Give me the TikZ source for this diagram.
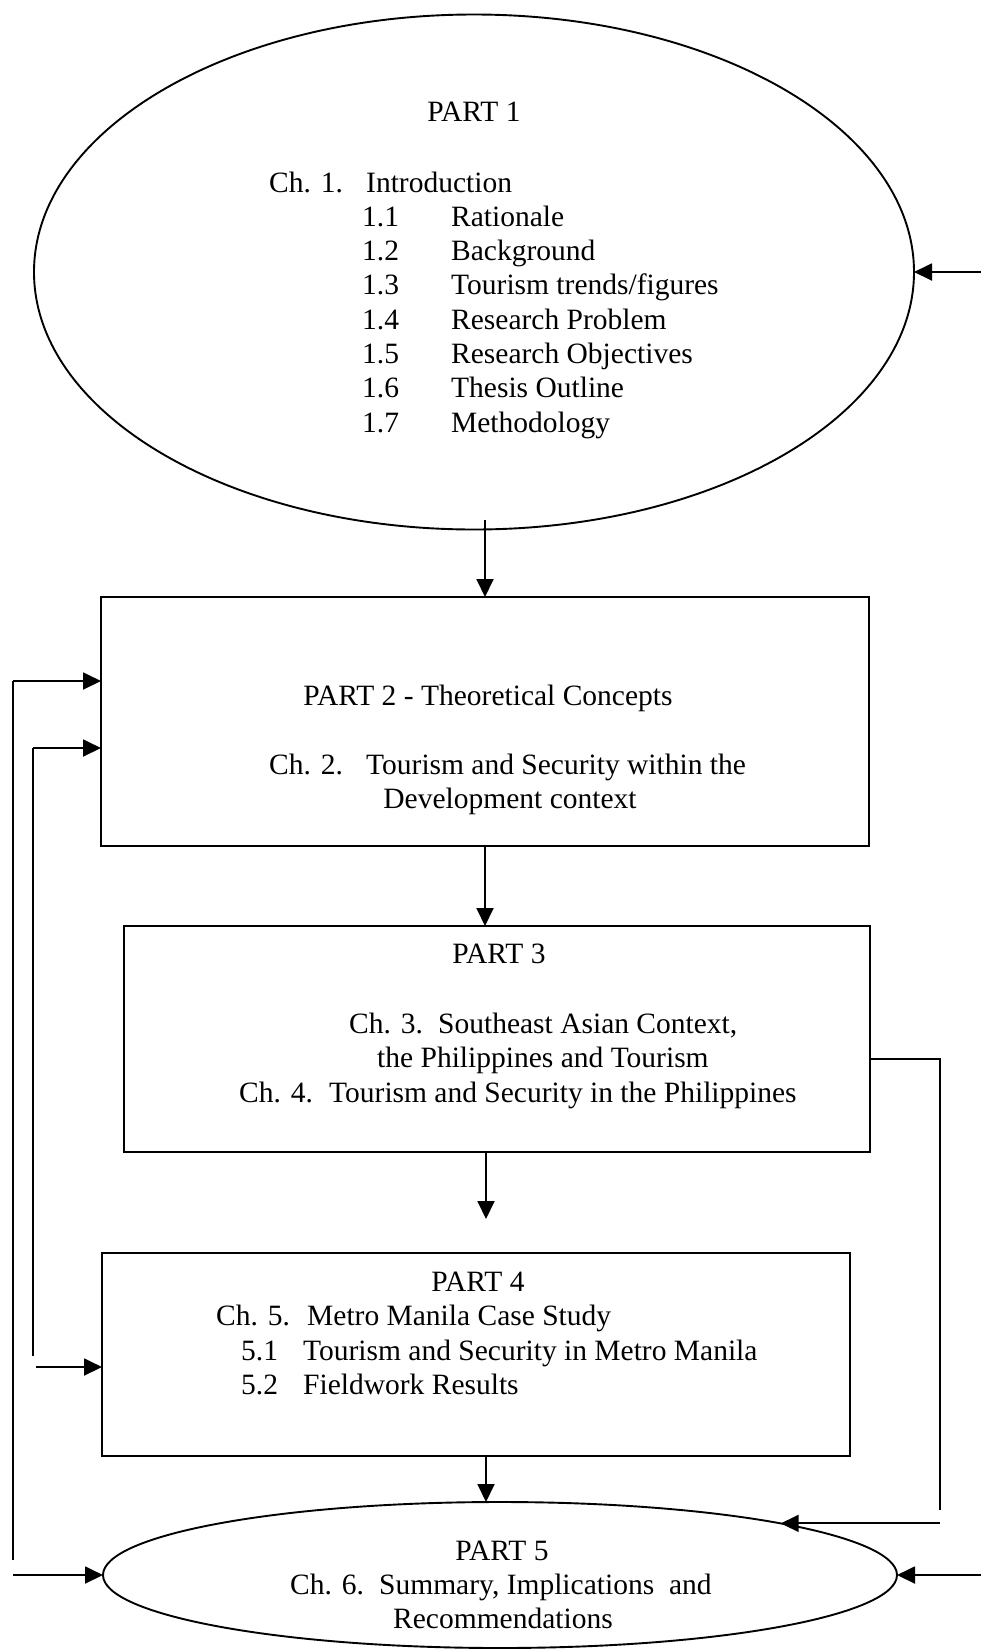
\documentclass[tikz,border=0pt]{standalone}
\usepackage{fontspec}
\setmainfont{Liberation Serif}
\usetikzlibrary{shapes.geometric,arrows.meta}
\tikzset{>={Triangle[length=18pt,width=17pt]}}
\tikzset{
  part/.style={draw,line width=1.9pt,inner sep=0,outer sep=0},
  partell/.style={part,ellipse},
  txt/.style={anchor=base west,inner sep=0,font=\fontsize{29.5}{34.5}\selectfont},
  txtc/.style={txt,anchor=base},
  flow/.style={->,line width=1.9pt},
  link/.style={line width=1.9pt}}
\newcommand\tab[2]{\makebox[#1pt][l]{#2}}

\begin{document}
\begin{tikzpicture}[x=1pt,y=-1pt]
  \useasboundingbox (0,0) rectangle (981,1650);

  % PARTS
  \node[partell,minimum width=880pt,minimum height=515pt] (p1) at (474,272) {};
  \node[part,minimum width=768pt,minimum height=249pt] (p2) at (485,721.5) {};
  \node[part,minimum width=746pt,minimum height=226pt] (p3) at (497,1039) {};
  \node[part,minimum width=748pt,minimum height=203pt] (p4) at (476,1354.5) {};
  \node[partell,minimum width=794pt,minimum height=146pt] (p5) at (500,1575) {};

  % PART 1 TEXT
  \node[txtc] (t1) at (474,121) {PART 1};
  \node[txt] (c1) at (269,192) {\tab{97}{Ch. 1.}Introduction};
  \foreach \n/\t [count=\i] in {1.1/Rationale,1.2/Background,
    1.3/{Tourism trends/figures},1.4/Research Problem,
    1.5/Research Objectives,1.6/Thesis Outline,1.7/Methodology}{
    \node[txt] (s\i) at (362,{192+34.3*\i}) {\tab{89}{\n}\t};
  }

  % PART 2 TEXT
  \node[txtc] (t2) at (488,705) {PART 2 - Theoretical Concepts};
  \node[txt] (c2) at (269,774) {\tab{97}{Ch. 2.}Tourism and Security within the};
  \node[txtc] (c2b) at (510,808) {Development context};

  % PART 3 TEXT
  \node[txtc] (t3) at (499,963) {PART 3};
  \node[txt] (c3) at (349,1033) {\tab{89}{Ch. 3.}Southeast Asian Context,};
  \node[txt] (c3b) at (377,1067) {the Philippines and Tourism};
  \node[txt] (c4) at (239,1102) {\tab{90}{Ch. 4.}Tourism and Security in the Philippines};

  % PART 4 TEXT
  \node[txtc] (t4) at (478,1291) {PART 4};
  \node[txt] (c5) at (216,1325) {\tab{91}{Ch. 5.}Metro Manila Case Study};
  \node[txt] (s51) at (241,1360) {\tab{62}{5.1}Tourism and Security in Metro Manila};
  \node[txt] (s52) at (241,1394) {\tab{62}{5.2}Fieldwork Results};

  % PART 5 TEXT
  \node[txtc] (t5) at (502,1560) {PART 5};
  \node[txt] (c6) at (290,1594) {\tab{89}{Ch. 6.}Summary, Implications\ \ and};
  \node[txtc] (c6b) at (503,1628) {Recommendations};

  % MAIN FLOW
  \coordinate (gap) at (486,1219);
  \draw[flow] ([yshift=10pt]p1.south -| p2.north) -- (p2.north);
  \draw[flow] (p2.south) -- (p2.south |- p3.north);
  \draw[flow] (p3.south -| gap) -- (gap);
  \draw[flow] (p4.south -| gap) -- (gap |- p5.north);

  % FEEDBACK LINKS
  \coordinate (l1) at (13,681);
  \coordinate (l1b) at (13,1560);
  \coordinate (l2) at (33,748);
  \coordinate (l2b) at (33,1356);
  \coordinate (l2c) at (36,1367);
  \coordinate (r3) at (940,1059);
  \coordinate (r3b) at (940,1510);
  \coordinate (edge) at (981,0);
  \draw[flow] (l1) -- (l1 -| p2.west);
  \draw[link] (l1) -- (l1b);
  \draw[flow] (l1 |- p5.west) -- (p5.west);
  \draw[flow] (l2) -- (l2 -| p2.west);
  \draw[link] (l2) -- (l2b);
  \draw[flow] (l2c) -- (l2c -| p4.west);
  \draw[link] (r3 -| p3.east) -- (r3) -- (r3b);
  \draw[flow] (p5.north east -| r3) -- (p5.north east);
  \draw[flow] (p1.east -| edge) -- (p1.east);
  \draw[flow] (p5.east -| edge) -- (p5.east);

\end{tikzpicture}
\end{document}
